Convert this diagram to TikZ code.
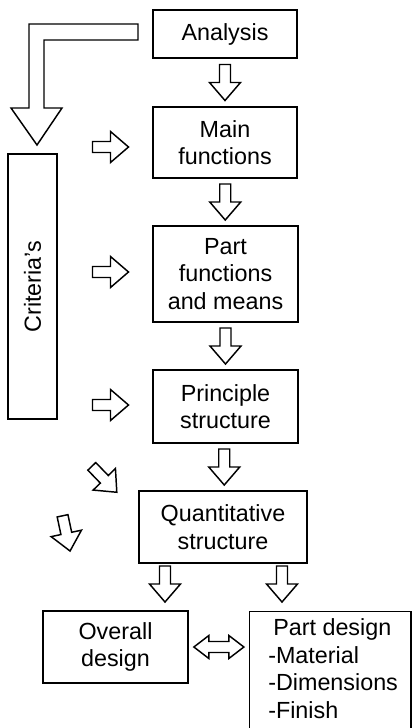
\documentclass[tikz,border=0pt]{standalone}
\usepackage{fontspec}
\setmainfont{Liberation Sans}
\usetikzlibrary{calc}

\tikzset{
    box/.style={draw, line width=1.1pt, inner sep=0pt, align=center, font=\fontsize{17.5}{20.6}\selectfont},
    blockarr/.pic={\draw[line width=1.1pt] (-18,-5.5) -- (0,-5.5) -- (0,-15.5) -- (18,0) -- (0,15.5) -- (0,5.5) -- (-18,5.5) -- cycle;},
    dblarr/.pic={\draw[line width=1.1pt] (-25,0) -- (-10,-11.5) -- (-10,-5.5) -- (10,-5.5) -- (10,-11.5) -- (25,0) -- (10,11.5) -- (10,5.5) -- (-10,5.5) -- (-10,11.5) -- cycle;}
}

\begin{document}
\begin{tikzpicture}[x=0.75pt,y=0.75pt,yscale=-1,xscale=1]
                \useasboundingbox (0,0) rectangle (412,728);
                \clip (0,0) rectangle (412,728);
                % main column
                \node [box, minimum width=108pt, minimum height=36pt] (analysis) at (225,34) {Analysis};
                \node [box, minimum width=108pt, minimum height=53.25pt] (mainf) at (225,142.5) {Main\\functions};
                \node [box, minimum width=108.75pt, minimum height=72pt] (partf) at (225.5,274) {Part\\functions\\and means};
                \node [box, minimum width=108.75pt, minimum height=54.75pt] (princ) at (225.5,406.5) {Principle\\structure};
                \node [box, minimum width=126pt, minimum height=54pt] (quant) at (223,527) {Quantitative\\structure};
                \node [box, minimum width=108.75pt, minimum height=54pt] (overall) at (115.5,647) {Overall\\design};
                \node [box, minimum width=121.1pt, minimum height=105pt, anchor=north west] (partd) at (249,611) {};
                \node [anchor=north west, inner sep=0pt, align=left, font=\fontsize{17.5}{20.6}\selectfont] (partdtxt) at (268,618.5) {\hspace{3.75pt}Part design\\-Material\\-Dimensions\\-Finish};
                \node [box, rotate=90, minimum width=198.75pt, minimum height=36.75pt] (criteria) at (32.5,286.5) {Criteria's};
                % arrows down
                \pic at ($(analysis.south)!0.5!(mainf.north)$) [rotate=-90] {blockarr};
                \pic at ($(mainf.south)!0.5!(partf.north)$) [rotate=-90] {blockarr};
                \pic at ($(partf.south)!0.5!(princ.north)$) [rotate=-90] {blockarr};
                \pic at ($(princ.south)!0.5!(quant.north)$) [rotate=-90] {blockarr};
                \pic at (165,584) [rotate=-90] {blockarr};
                \pic at (282,584) [rotate=-90] {blockarr};
                % criteria arrows
                \pic at (110.5,147) {blockarr};
                \pic at (110.5,272) {blockarr};
                \pic at (110.5,405) {blockarr};
                \pic at (104.3,479.3) [rotate=-46] {blockarr};
                \pic at (66.3,533.4) [rotate=-78] {blockarr};
                \pic at ($(overall.east)!0.5!(overall.east -| partd.west)$) {dblarr};
                % big arrow
                \draw [line width=1.1pt] (138,24) -- (29,24) -- (29,108) -- (11,108) -- (37,145) -- (62,108) -- (44,108) -- (44,40) -- (138,40) -- cycle ;
            \end{tikzpicture}
\end{document}
